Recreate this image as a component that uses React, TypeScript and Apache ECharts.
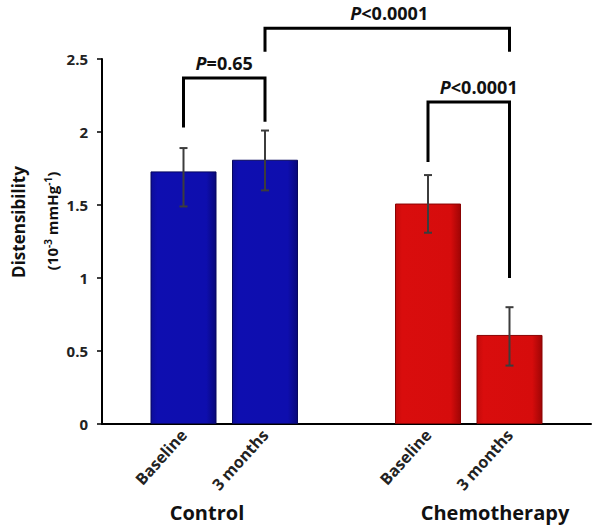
import { useEffect, useRef } from 'react';
import * as echarts from 'echarts';

// x categories (empty slots form the gap between groups)
const categories = ['', 'Baseline', '3 months', '', 'Baseline', '3 months', ''];
const groupNames = ['Control', 'Chemotherapy'];

const controlIdx = [1, 2];
const controlMeans = [1.73, 1.81];
const controlLow = [1.49, 1.6];
const controlHigh = [1.89, 2.01];

const chemoIdx = [4, 5];
const chemoMeans = [1.51, 0.61];
const chemoLow = [1.31, 0.4];
const chemoHigh = [1.705, 0.8];

const yMin = 0;
const yMax = 2.5;
const yInterval = 0.5;

// significance brackets: [fromIdx, toIdx, top, leftEnd, rightEnd]
const bracketLabels = ['=0.65', '<0.0001', '<0.0001'];
const bracketData = [
  [1, 2, 2.37, 2.03, 2.07],
  [2, 5, 2.71, 2.55, 2.55],
  [4, 5, 2.205, 1.795, 1.0],
];
const bracketLabelShift = [0, 2, 10];

const FONT = '"Open Sans", "Liberation Sans", Arial, sans-serif';

export default function App() {
  const ref = useRef<HTMLDivElement>(null);

  useEffect(() => {
    if (!ref.current) return;
    const chart = echarts.init(ref.current, undefined, { renderer: 'svg' });

    const fill = (idx: number[], vals: number[]) =>
      categories.map((_, i) => {
        const k = idx.indexOf(i);
        return k >= 0 ? vals[k] : '-';
      });

    const errData = [
      ...controlIdx.map((x, i) => [x, controlLow[i], controlHigh[i]]),
      ...chemoIdx.map((x, i) => [x, chemoLow[i], chemoHigh[i]]),
    ];

    const option: any = {
      animation: false,
      grid: { left: 102, right: 9, top: 59, bottom: 105, containLabel: false },
      xAxis: {
        type: 'category',
        data: categories,
        boundaryGap: false,
        axisLine: { lineStyle: { color: '#000', width: 2 } },
        axisTick: { show: false },
        axisLabel: {
          interval: 0,
          rotate: 48,
          margin: 8,
          fontFamily: FONT,
          fontWeight: 'bold',
          fontSize: 16,
          color: '#222',
        },
        splitLine: { show: false },
      },
      yAxis: {
        type: 'value',
        min: yMin,
        max: yMax,
        interval: yInterval,
        axisLine: { show: true, lineStyle: { color: '#000', width: 2 } },
        axisTick: { show: true, length: 5, lineStyle: { color: '#000', width: 1.5 } },
        axisLabel: {
          margin: 14,
          fontFamily: FONT,
          fontWeight: 'bold',
          fontSize: 15,
          color: '#222',
        },
        splitLine: { show: false },
      },
      graphic: [
        {
          type: 'text',
          x: 18,
          y: 222,
          rotation: Math.PI / 2,
          style: {
            text: 'Distensibility',
            font: `bold 17px ${FONT}`,
            fill: '#111',
            align: 'center',
            verticalAlign: 'middle',
          },
        },
        {
          type: 'text',
          x: 52,
          y: 221,
          rotation: Math.PI / 2,
          style: {
            text: '(10{sup|-3} mmHg{sup|-1})',
            font: `bold 15px ${FONT}`,
            fill: '#111',
            align: 'center',
            verticalAlign: 'middle',
            rich: {
              sup: { fontSize: 10, fontWeight: 'bold', fontFamily: FONT, verticalAlign: 'top', padding: [0, 0, 8, 0] },
            },
          },
        },
        {
          type: 'text',
          x: 207,
          y: 512,
          style: {
            text: groupNames[0],
            font: `bold 20px ${FONT}`,
            fill: '#111',
            align: 'center',
            verticalAlign: 'middle',
          },
        },
        {
          type: 'text',
          x: 495,
          y: 512,
          style: {
            text: groupNames[1],
            font: `bold 20px ${FONT}`,
            fill: '#111',
            align: 'center',
            verticalAlign: 'middle',
          },
        },
      ],
      series: [
        {
          name: 'Control',
          type: 'bar',
          data: fill(controlIdx, controlMeans),
          barWidth: 66,
          barGap: '-100%',
          itemStyle: {
            color: new echarts.graphic.LinearGradient(0, 0, 1, 0, [
              { offset: 0, color: '#0d0d9a' },
              { offset: 0.1, color: '#0e0eb0' },
              { offset: 0.85, color: '#0e0eae' },
              { offset: 1, color: '#08087a' },
            ]),
            borderColor: '#07075e',
            borderWidth: 1,
          },
        },
        {
          name: 'Chemotherapy',
          type: 'bar',
          data: fill(chemoIdx, chemoMeans),
          barWidth: 66,
          barGap: '-100%',
          itemStyle: {
            color: new echarts.graphic.LinearGradient(0, 0, 1, 0, [
              { offset: 0, color: '#c40a0a' },
              { offset: 0.1, color: '#d90d0d' },
              { offset: 0.85, color: '#d60c0c' },
              { offset: 1, color: '#a00505' },
            ]),
            borderColor: '#8a0303',
            borderWidth: 1,
          },
        },
        {
          name: 'error',
          type: 'custom',
          data: errData,
          encode: { x: 0, y: [1, 2] },
          z: 10,
          renderItem: (_params: any, api: any) => {
            const x = api.value(0);
            const lo = api.coord([x, api.value(1)]);
            const hi = api.coord([x, api.value(2)]);
            const cap = 4;
            const st = { stroke: '#3c3c3c', lineWidth: 2 };
            return {
              type: 'group',
              children: [
                { type: 'line', shape: { x1: lo[0], y1: lo[1], x2: hi[0], y2: hi[1] }, style: st },
                { type: 'line', shape: { x1: hi[0] - cap, y1: hi[1], x2: hi[0] + cap, y2: hi[1] }, style: st },
                { type: 'line', shape: { x1: lo[0] - cap, y1: lo[1], x2: lo[0] + cap, y2: lo[1] }, style: st },
              ],
            };
          },
        },
        {
          name: 'brackets',
          type: 'custom',
          data: bracketData,
          encode: { x: [0, 1], y: [2, 3, 4] },
          clip: false,
          z: 11,
          renderItem: (params: any, api: any) => {
            const x1 = api.value(0);
            const x2 = api.value(1);
            const pTopL = api.coord([x1, api.value(2)]);
            const pTopR = api.coord([x2, api.value(2)]);
            const pL = api.coord([x1, api.value(3)]);
            const pR = api.coord([x2, api.value(4)]);
            const label = bracketLabels[params.dataIndex];
            return {
              type: 'group',
              children: [
                {
                  type: 'polyline',
                  shape: { points: [pL, pTopL, pTopR, pR] },
                  style: { stroke: '#000', lineWidth: 3, fill: null },
                },
                {
                  type: 'text',
                  x: (pTopL[0] + pTopR[0]) / 2 + bracketLabelShift[params.dataIndex],
                  y: pTopL[1] - 15,
                  style: {
                    text: '{i|P}' + label,
                    font: `bold 18px ${FONT}`,
                    fill: '#111',
                    align: 'center',
                    verticalAlign: 'middle',
                    rich: {
                      i: { fontStyle: 'italic', fontWeight: 'bold', fontSize: 18, fontFamily: FONT },
                    },
                  },
                },
              ],
            };
          },
        },
      ],
    };

    chart.setOption(option);
    return () => chart.dispose();
  }, []);

  return <div ref={ref} style={{ width: 600, height: 529, position: 'absolute', left: 0, top: 0, background: '#fff' }} />;
}
